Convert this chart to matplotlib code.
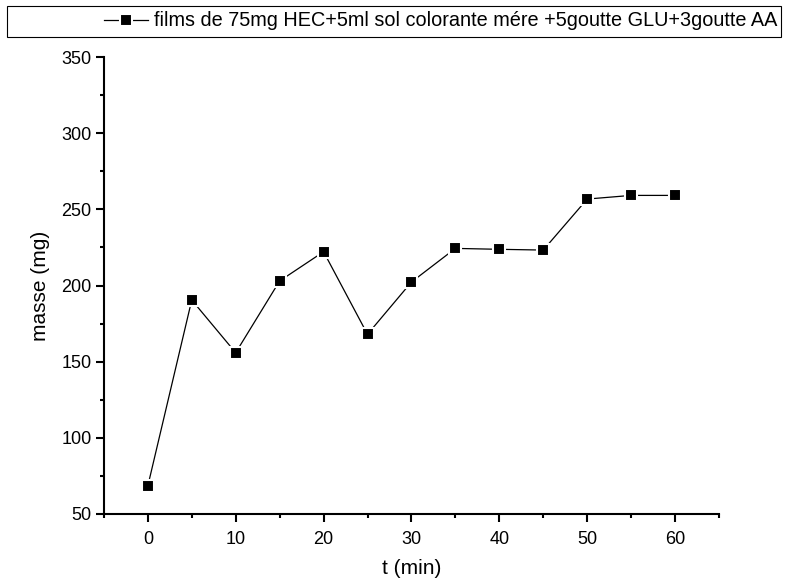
import matplotlib.pyplot as plt
from matplotlib.patches import Rectangle
from matplotlib.ticker import MultipleLocator

plt.rcParams['font.family'] = ['Liberation Sans', 'DejaVu Sans']

t_min = [0, 5, 10, 15, 20, 25, 30, 35, 40, 45, 50, 55, 60]
masse_mg = [68.4, 190.5, 155.9, 203, 222.2, 168, 202.3, 224.4, 223.8, 223.3, 256.8, 259.2, 259.2]
label = "films de 75mg HEC+5ml sol colorante m\u00e9re +5goutte GLU+3goutte AA"

fig = plt.figure(figsize=(7.87, 5.83), dpi=100)
ax = fig.add_axes([0.132, 0.1184, 0.7816, 0.7836])

line, = ax.plot(t_min, masse_mg, color='black', linewidth=0.9,
                marker='s', markersize=9, markerfacecolor='black',
                markeredgecolor='white', markeredgewidth=1.5, label=label)

ax.set_xlim(-5, 65)
ax.set_ylim(50, 350)
ax.xaxis.set_major_locator(MultipleLocator(10))
ax.xaxis.set_minor_locator(MultipleLocator(5))
ax.yaxis.set_major_locator(MultipleLocator(50))
ax.yaxis.set_minor_locator(MultipleLocator(25))

for side in ['top', 'right']:
    ax.spines[side].set_visible(False)
for side in ['left', 'bottom']:
    ax.spines[side].set_linewidth(1.5)

ax.tick_params(which='major', direction='out', length=5.5, width=1.5, labelsize=13)
ax.tick_params(axis='x', which='major', pad=7)
ax.tick_params(which='minor', direction='out', length=3, width=1.5)

ax.set_xlabel('t (min)', fontsize=15, labelpad=8)
ax.set_ylabel('masse (mg)', fontsize=15, labelpad=8)

# legend box across the top
fig.patches.append(Rectangle((7 / 787, 1 - 37 / 583), 774 / 787, 31 / 583,
                             transform=fig.transFigure, fill=False,
                             edgecolor='black', linewidth=0.8))
fig.legend(handles=[line], loc='center right', bbox_to_anchor=(777 / 787, 1 - 21 / 583),
           frameon=False, fontsize=14.3, handlelength=2.2, handletextpad=0.3,
           borderaxespad=0, borderpad=0)

fig.savefig('out.png', dpi=100)
